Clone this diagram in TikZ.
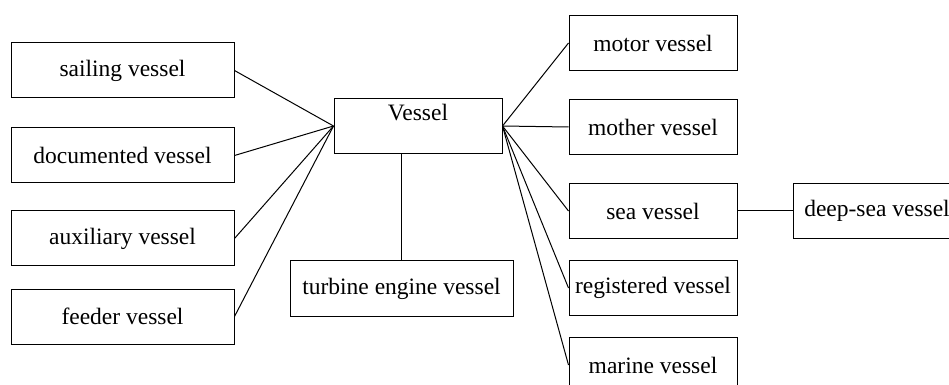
\documentclass[tikz,border=0pt]{standalone}
\usepackage{fontspec}
\setmainfont{Liberation Serif}
\usepackage{tikz}
\usetikzlibrary{positioning}

\begin{document}
\begin{tikzpicture}[
  x=0.5pt, y=-0.5pt,
  box/.style={rectangle, draw, line width=0.5pt, minimum height=27.5pt,
    inner sep=2pt, align=center, font=\fontsize{11.75}{14}\selectfont},
  wide/.style={box, minimum width=111.5pt},
  narrow/.style={box, minimum width=84pt},
  link/.style={-, line width=0.5pt},
]
\useasboundingbox (0,0) rectangle (949,385);
% left column
\node[wide] (sail) at (122.5,70.5) {sailing vessel};
\node[wide, below=14.5pt of sail] (doc) {documented vessel};
\node[wide, below=13.5pt of doc] (aux) {auxiliary vessel};
\node[wide, below=11pt of aux] (feed) {feeder vessel};
% centre
\node[narrow, text depth=14pt] (vessel) at (418,126) {Vessel};
\node[wide] (turb) at (401.5,288.5) {turbine engine vessel};
% right column
\node[narrow] (motor) at (653,43) {motor vessel};
\node[narrow, below=14pt of motor] (mother) {mother vessel};
\node[narrow, below=14pt of mother] (sea) {sea vessel};
\node[narrow, below=10.5pt of sea] (reg) {registered vessel};
\node[narrow, below=10.5pt of reg] (marine) {marine vessel};
\node[narrow, right=27.5pt of sea] (deep) {deep-sea vessel};

\draw[link] (sail.east) -- (vessel.west);
\draw[link] (doc.east) -- (vessel.west);
\draw[link] (aux.east) -- (vessel.west);
\draw[link] (feed.east) -- (vessel.west);
\draw[link] (turb.north) -- (turb.north |- vessel.south);
\draw[link] (vessel.east) -- (motor.west);
\draw[link] (vessel.east) -- (mother.west);
\draw[link] (vessel.east) -- (sea.west);
\draw[link] (vessel.east) -- (reg.west);
\draw[link] (vessel.east) -- (marine.west);
\draw[link] (sea) -- (deep);
\end{tikzpicture}
\end{document}
